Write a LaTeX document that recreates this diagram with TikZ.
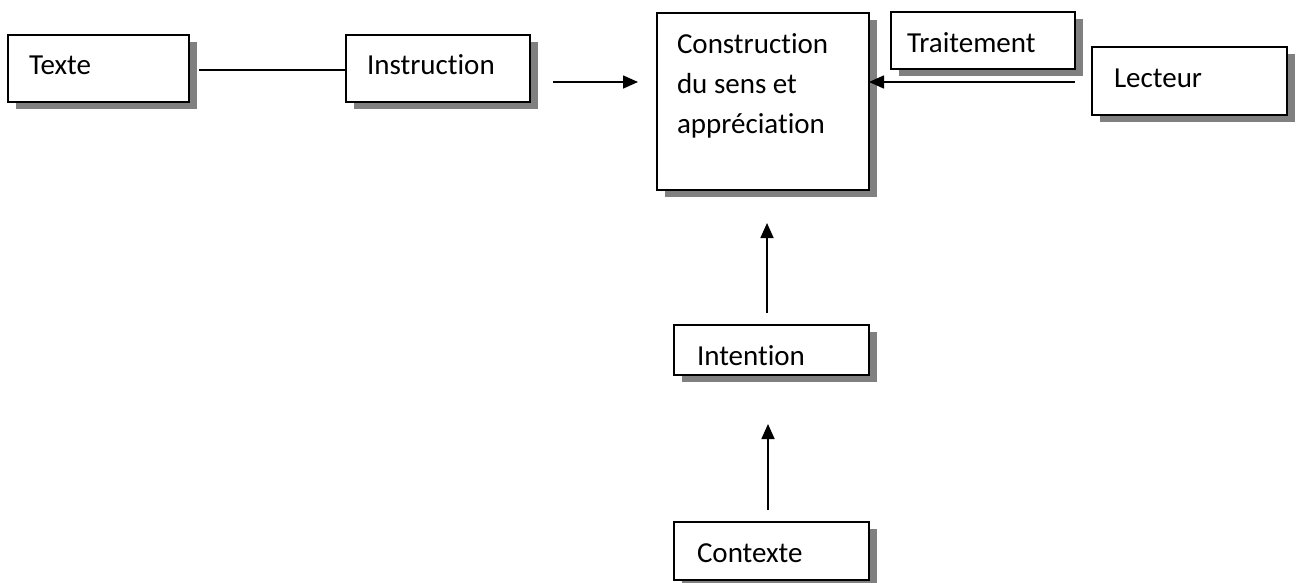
\documentclass[tikz,border=0pt]{standalone}
\usepackage{fontspec}
\setmainfont{Carlito}[Ligatures={NoCommon,NoContextual}]
\usetikzlibrary{arrows.meta,shadows}
\definecolor{shadowgray}{RGB}{128,128,128}
\begin{document}
\begin{tikzpicture}[x=1pt,y=-1pt,
  box/.style={draw, line width=1.8pt, fill=white, rectangle, anchor=north west,
    inner sep=0pt, outer sep=0pt,
    drop shadow={shadow xshift=8pt, shadow yshift=-6.5pt, fill=shadowgray, opacity=1}},
  lbl/.style={anchor=base west, inner sep=0pt, outer sep=0pt,
    font=\fontsize{29pt}{40pt}\selectfont},
  conn/.style={line width=1.6pt},
  arr/.style={conn, -{Triangle[length=15pt,width=13pt]}}]
\useasboundingbox (0,0) rectangle (1300,582);
\clip (0,0) rectangle (1300,582);
% boxes
\node[box, minimum width=181pt, minimum height=67pt] (texte) at (8,35) {};
\node[box, minimum width=184pt, minimum height=67pt] (instr) at (346,35) {};
\node[box, minimum width=212pt, minimum height=177pt] (constr) at (657,13) {};
\node[box, minimum width=184pt, minimum height=57pt] (trait) at (891,12) {};
\node[box, minimum width=195pt, minimum height=68pt] (lect) at (1092,47) {};
\node[box, minimum width=195pt, minimum height=50pt] (intn) at (674,325) {};
\node[box, minimum width=195pt, minimum height=58pt] (ctx) at (674,522) {};
% labels
\node[lbl] (texte-t) at (29,74) {Texte};
\node[lbl] (instr-t) at (367,74) {Instruction};
\node[lbl] (constr-t) at (677,53) {\vtop{\hbox{Construction}\hbox{du sens et}\hbox{appréciation}}};
\node[lbl] (trait-t) at (907,52) {Traitement};
\node[lbl] (lect-t) at (1114,87) {Lecteur};
\node[lbl] (intn-t) at (697,365) {Intention};
\node[lbl] (ctx-t) at (697,562) {Contexte};
% connectors
\draw[conn, shorten <=10pt] (texte.east |- 0,70) -- (instr.west |- 0,70);
\draw[arr, shorten <=23pt, shorten >=19pt] (instr.east |- 0,82) -- (constr.west |- 0,82);
\draw[arr, shorten <=17pt] (lect.west |- 0,82) -- (constr.east |- 0,82);
\draw[arr, shorten <=12pt, shorten >=33pt] (intn.north -| 767,0) -- (constr.south -| 767,0);
\draw[arr, shorten <=12pt, shorten >=49pt] (ctx.north -| 768,0) -- (intn.south -| 768,0);
\end{tikzpicture}
\end{document}
